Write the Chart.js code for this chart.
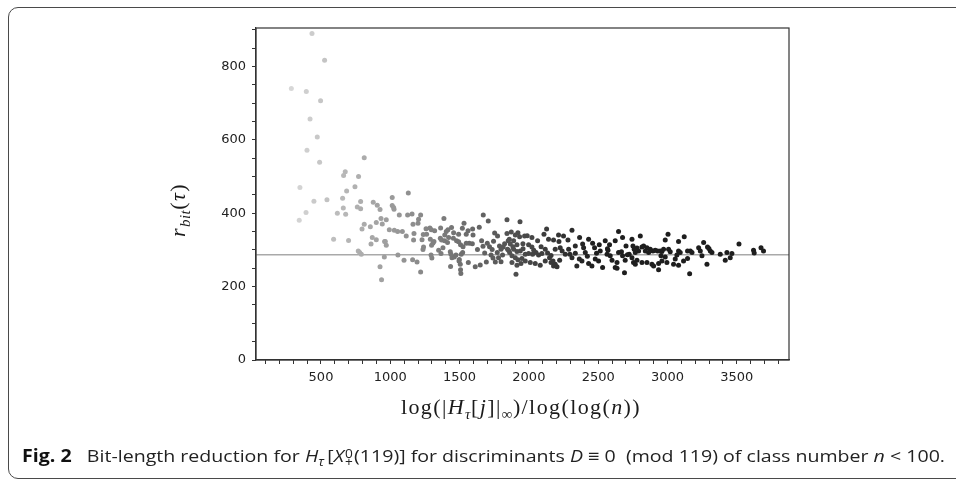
<!DOCTYPE html>
<html>
<head>
<meta charset="utf-8">
<script src="https://cdn.jsdelivr.net/npm/chart.js@4.4.1/dist/chart.umd.min.js"></script>
<style>
  html, body { margin: 0; padding: 0; background: #fff; overflow: hidden; }
  body { width: 956px; height: 487px; position: relative; }
  #frame {
    position: absolute; left: 8px; top: 7px; width: 1000px; height: 472px;
    border: 1.3px solid #4a4a4a; border-radius: 10px 0 0 10px; box-sizing: border-box;
  }
  #wrap { position: absolute; left: 0; top: 0; width: 956px; height: 487px; }
  .math { position: absolute; font-family: 'Liberation Serif', 'DejaVu Serif', serif; color: #1a1a1a; white-space: nowrap; letter-spacing: 1.4px; }
  .math i { font-style: italic; }
  .math sub { font-size: 0.68em; vertical-align: -0.35em; line-height: 0; letter-spacing: 0.5px; }
  #ytitle { left: 178px; top: 210px; font-size: 22px; transform: translate(-50%, -50%) rotate(-90deg); }
  #xtitle { left: 521px; top: 407px; font-size: 22px; transform: translate(-50%, -50%); }
  #caption {
    position: absolute; left: 22px; top: 444px; font-family: 'Liberation Sans Narrow', 'Open Sans', sans-serif;
    font-size: 17px; color: #222; white-space: nowrap; transform-origin: 0 50%;
  }
  #caption b { font-weight: 700; color: #111; }
  .stack { display: inline-block; vertical-align: middle; line-height: 0.75em; font-size: 0.7em; text-align: center; margin: 0 1px; }
  .stack span { display: block; }
</style>
</head>
<body>
<div id="frame"></div>
<div id="wrap"><canvas id="c"></canvas></div>
<div class="math" id="ytitle"><i>r</i><sub><i>bit</i></sub>(<i>τ</i>)</div>
<div class="math" id="xtitle">log(|<i>H</i><sub><i>τ</i></sub>[<i>j</i>]|<sub>∞</sub>)/log(log(<i>n</i>))</div>
<div id="caption"><b>Fig. 2</b>&nbsp;&nbsp; Bit-length reduction for <i>H</i><sub style="font-size:0.7em"><i>τ</i></sub>&thinsp;[<i>X</i><span class="stack"><span>0</span><span>+</span></span>(119)] for discriminants <i>D</i> ≡ 0 &nbsp;(mod 119) of class number <i>n</i> &lt; 100.</div>

<script>
// --- values ---
const xValues = [
  435, 526, 286, 394, 497, 421, 473, 399, 490, 812, 675, 663, 771, 348, 745, 685,
  449, 543, 656, 786, 877, 906, 392, 343, 618, 661, 678, 762, 786, 926,
  812, 796, 856, 899, 933, 942, 591, 699, 870, 899, 861, 959, 769, 779, 791, 957, 926, 937,
  1014, 1130, 1014, 1024, 1027, 1065, 1125, 1157, 1219, 971, 993, 1029, 1053, 1087, 1115, 1164,
  1171, 1200, 1204, 964, 971, 1168, 1229, 1240, 1236, 1298, 1055, 1099, 1161, 1193, 1219,
  1258, 1296, 1238, 1320, 1363, 1387, 1404, 1442, 1457, 1493, 1532, 1548, 1594, 1642, 1597,
  1671, 1707, 1753, 1774, 1842,
  1289, 1308, 1370, 1392, 1413, 1455, 1478, 1507, 1525, 1570, 1592, 1659, 1669, 1700, 1716,
  1745, 1788, 1799, 1825, 1851,
  1349, 1380, 1433, 1445, 1462, 1498, 1505, 1507, 1512, 1435, 1563, 1613, 1649, 1693, 1727,
  1741, 1758, 1772, 1799, 1810, 1853, 1300, 1294,
  1286, 1416, 1520, 1561, 1842, 1262, 1315, 1361, 1421, 1493, 1815, 1366, 1438, 1474, 1496,
  1509, 1522, 1781, 1859,
  1936, 1873, 1921, 1902, 1933, 1969, 1988, 2022, 1890, 1866, 1914, 1957, 1998, 2022, 2063,
  2109, 2128, 2142, 2178, 2214, 2217, 2250, 2282, 2311, 2335, 2366, 2388, 2431, 2460, 2474,
  2508, 2551, 2582, 2623, 2647, 2676, 2701, 2744,
  1846, 1861, 1878, 1890, 1914, 1938, 1902, 1921, 1950, 1974, 1998, 2027, 2051, 2070, 2094,
  1878, 1914, 1943, 1974, 2010, 2046, 2082, 2118, 2149, 2160, 2178, 2190, 2203, 2174, 2222,
  1907, 2263, 2311, 2346, 2364, 2383, 2407, 2431, 2455, 2479, 2503, 2532, 2564, 2587, 2600,
  2636, 2623, 2647, 2676, 2695, 2724, 2690, 2744, 2755, 2395, 2515, 2287, 2190, 2118, 2226, 2636,
  2804, 3004, 2984, 3080, 3121, 3261, 3516, 3675, 3693, 3621, 3626, 3429, 3465, 3453, 3417,
  3381, 3309, 3321, 3289, 3299, 3285, 3225, 3237, 3249, 3165, 3177, 3145, 3116, 3145, 3160,
  3080, 3092, 3068, 3056, 3044, 3080, 3008, 3020, 2972, 2960, 2948, 2929, 2912, 2895, 2876,
  2852, 2828, 2816, 2840, 2864, 2780, 2792, 2768, 2751, 2760, 2780, 2768, 2816, 2852, 2888,
  2900, 2936, 2960, 2996, 2984, 2953, 2936,
  // a few more in the dense middle band
  1735, 1885, 1958, 2035, 2088, 2135, 2240, 2296, 2422, 2488, 2571, 2668, 2711, 1629, 1681,
  1548, 1393, 2160, 2335, 2567
];
const yValues = [
  890, 817, 740, 732, 707, 657, 608, 572, 539, 551, 513, 503, 500, 470, 472, 461,
  433, 437, 441, 432, 430, 422, 402, 381, 400, 414, 397, 417, 412, 410,
  370, 357, 363, 375, 386, 371, 329, 326, 334, 328, 316, 323, 297, 293, 288, 281, 254, 219,
  443, 455, 421, 416, 411, 395, 395, 398, 395, 382, 355, 354, 350, 350, 338, 370,
  345, 373, 384, 323, 313, 327, 328, 308, 301, 313, 286, 272, 273, 267, 240,
  358, 355, 342, 352, 360, 386, 350, 361, 347, 343, 373, 343, 357, 362, 341,
  395, 379, 346, 338, 382,
  329, 319, 327, 325, 320, 332, 325, 314, 309, 318, 317, 325, 310, 318, 309,
  324, 311, 302, 317, 325,
  299, 306, 295, 279, 281, 274, 261, 246, 288, 255, 266, 254, 259, 267, 286,
  278, 267, 293, 268, 286, 299, 278, 286,
  360, 355, 359, 352, 345, 343, 323, 332, 334, 322, 308, 290, 288, 286, 270,
  236, 293, 279, 329,
  377, 349, 347, 341, 336, 338, 339, 334, 325, 316, 314, 317, 314, 308, 325,
  343, 357, 329, 327, 341, 323, 338, 327, 354, 311, 334, 316, 329, 318, 306,
  314, 325, 314, 325, 350, 334, 311, 329,
  302, 293, 284, 302, 296, 297, 279, 273, 277, 288, 290, 288, 293, 286, 290,
  266, 258, 263, 270, 266, 263, 258, 270, 279, 266, 256, 261, 254, 270, 272,
  234, 288, 279, 256, 275, 270, 293, 263, 256, 275, 270, 252, 288, 284, 272,
  266, 252, 293, 284, 272, 288, 238, 279, 266, 306, 297, 302, 302, 302, 306, 250,
  338, 343, 327, 323, 336, 320, 316, 306, 297, 299, 292, 293, 290, 279, 272,
  288, 297, 293, 308, 304, 261, 306, 297, 284, 297, 293, 297, 270, 277, 235,
  297, 293, 286, 275, 261, 258, 302, 295, 302, 296, 297, 297, 299, 297, 302,
  306, 311, 308, 297, 293, 305, 297, 293, 311, 302, 272, 261, 266, 266, 261,
  256, 263, 270, 266, 281, 284, 246,
  301, 309, 303, 299, 309, 292, 297, 288, 283, 291, 299, 295, 287, 301, 292,
  318, 341, 285, 291, 303
];
const refLevel = 287;          // horizontal reference line
const xLimits = [31, 3877];
const yLimits = [0, 905];
const xTickStep = 100, xLabelEvery = 500;
const yTickStep = 50,  yLabelEvery = 200;

// --- shade goes from light grey (left) to near black (right) ---
function shadeFor(x) {
  const L = Math.round(Math.max(30, Math.min(215, 215 - (x - 300) * 0.085)));
  return `rgb(${L},${L},${L})`;
}

// --- draws the box round the plot area ---
const plotBox = {
  id: 'plotBox',
  afterDatasetsDraw(chart) {
    const { ctx, chartArea: a } = chart;
    ctx.save();
    ctx.strokeStyle = '#333';
    ctx.lineWidth = 1.2;
    ctx.strokeRect(a.left, a.top, a.right - a.left, a.bottom - a.top);
    ctx.restore();
  },
};

const tickFont = { family: 'DejaVu Sans', size: 13 };

new Chart(document.getElementById('c'), {
  type: 'scatter',
  data: {
    datasets: [
      {
        type: 'scatter',
        data: xValues.map((x, i) => ({ x, y: yValues[i] })),
        pointRadius: 2.5,
        pointBorderWidth: 0,
        pointBackgroundColor: ctx => shadeFor(ctx.raw ? ctx.raw.x : 0),
        order: 1,
      },
      {
        type: 'line',
        data: [{ x: xLimits[0], y: refLevel }, { x: xLimits[1], y: refLevel }],
        borderColor: '#a9a9a9',
        borderWidth: 1.4,
        pointRadius: 0,
        order: 2,
      },
    ],
  },
  options: {
    responsive: true,
    maintainAspectRatio: false,
    animation: false,
    layout: { padding: { left: 0, right: 167, top: 28, bottom: 97 } },
    plugins: { legend: { display: false }, tooltip: { enabled: false } },
    scales: {
      x: {
        type: 'linear', min: xLimits[0], max: xLimits[1],
        ticks: {
          stepSize: xTickStep, autoSkip: false, includeBounds: false, maxRotation: 0,
          color: '#222', font: tickFont, padding: 6,
          callback: v => (v % xLabelEvery === 0 ? String(v) : ''),
        },
        grid: { drawOnChartArea: false, tickLength: 4, tickColor: '#333' },
        border: { color: '#333', width: 1.2 },
        afterFit: s => { s.height = 30; },
      },
      y: {
        type: 'linear', min: yLimits[0], max: yLimits[1],
        ticks: {
          stepSize: yTickStep, autoSkip: false, includeBounds: false,
          color: '#222', font: tickFont, padding: 6,
          callback: v => (v % yLabelEvery === 0 ? String(v) : ''),
        },
        grid: { drawOnChartArea: false, tickLength: 4, tickColor: '#333' },
        border: { color: '#333', width: 1.2 },
        afterFit: s => { s.width = 256; },
      },
    },
  },
  plugins: [plotBox],
});

// fit the caption to the width it has in the figure
const cap = document.getElementById('caption');
const w = cap.getBoundingClientRect().width;
cap.style.transform = `scaleX(${(923 / w).toFixed(4)})`;
</script>
</body>
</html>
